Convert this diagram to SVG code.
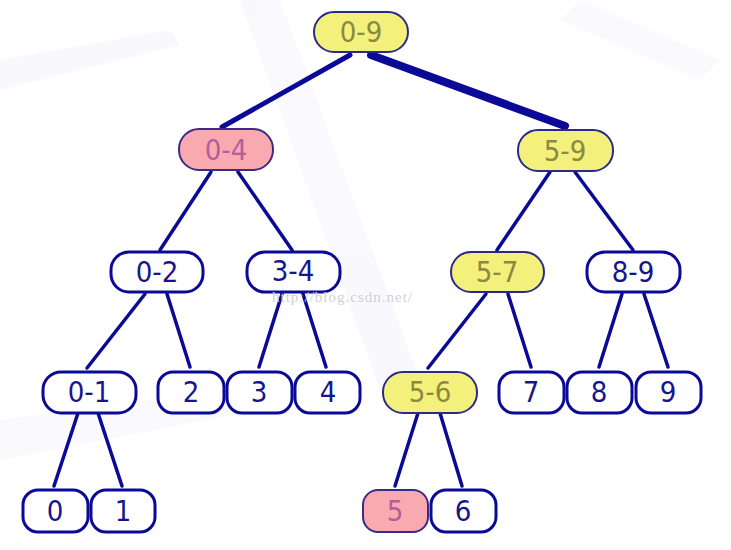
<svg xmlns="http://www.w3.org/2000/svg" width="731" height="550" viewBox="0 0 731 550">
<style>
.n rect{fill:#ffffff;stroke:#0a0a96;stroke-width:3}
.y rect{fill:#f4f07c;stroke:#2a2a8a;stroke-width:2}
.p rect{fill:#f9a9b0;stroke:#3a2a8a;stroke-width:2}
text{font-family:"DejaVu Sans Condensed","DejaVu Sans","Liberation Sans",sans-serif;font-size:29px;text-anchor:middle;dominant-baseline:central;fill:#16168c}
.y text{fill:#8a8a40}
.p text{fill:#b0609a}
.e line{stroke:#0a0a96;stroke-width:3.5;stroke-linecap:round}
.wm{font-family:"Liberation Serif",serif;font-size:15px;fill:#d0d0d0;text-anchor:start;letter-spacing:1px;dominant-baseline:auto}
</style>
<rect width="731" height="550" fill="#ffffff"/>
<g id="bg" opacity="0.35">
<polygon points="240,0 280,0 420,380 380,390" fill="#eeeefb"/>
<polygon points="0,60 170,30 180,45 0,90" fill="#f0f0fb"/>
<polygon points="0,420 300,380 310,400 0,460" fill="#f2f2fb"/>
<polygon points="580,0 720,60 700,80 560,20" fill="#f2f2fb"/>
</g>
<g class="e" id="connectors">
<line x1="350" y1="55" x2="222" y2="127" style="stroke-width:5"/>
<line x1="371" y1="55" x2="565" y2="126" style="stroke-width:8"/>
<line x1="211" y1="172" x2="160" y2="250"/>
<line x1="238" y1="172" x2="292" y2="250"/>
<line x1="550" y1="172" x2="497" y2="250"/>
<line x1="575" y1="172" x2="633" y2="250"/>
<line x1="145" y1="294" x2="87" y2="368"/>
<line x1="167" y1="294" x2="190" y2="367"/>
<line x1="282" y1="294" x2="259" y2="367"/>
<line x1="303" y1="294" x2="326" y2="367"/>
<line x1="486" y1="294" x2="428" y2="368"/>
<line x1="508" y1="294" x2="531" y2="367"/>
<line x1="622" y1="294" x2="599" y2="367"/>
<line x1="644" y1="294" x2="668" y2="367"/>
<line x1="78" y1="413" x2="54" y2="486"/>
<line x1="98" y1="413" x2="122" y2="486"/>
<line x1="418" y1="413" x2="395" y2="486"/>
<line x1="440" y1="413" x2="462" y2="486"/>
</g>
<g id="n09" class="y"><rect x="314" y="12" width="94" height="40" rx="20"/><text x="361" y="32">0-9</text></g>
<g id="n04" class="p"><rect x="179" y="129" width="94" height="41" rx="20"/><text x="226" y="150">0-4</text></g>
<g id="n59" class="y"><rect x="518" y="130" width="95" height="41" rx="20"/><text x="565" y="151">5-9</text></g>
<g id="n02" class="n"><rect x="111" y="252" width="92" height="40" rx="18"/><text x="157" y="272">0-2</text></g>
<g id="n34" class="n"><rect x="247" y="252" width="93" height="40" rx="18"/><text x="293" y="271">3-4</text></g>
<g id="n57" class="y"><rect x="451" y="252" width="93" height="40" rx="20"/><text x="497" y="272">5-7</text></g>
<g id="n89" class="n"><rect x="587" y="252" width="93" height="40" rx="18"/><text x="633" y="272">8-9</text></g>
<g id="n01" class="n"><rect x="43" y="372" width="93" height="41" rx="18"/><text x="89" y="392">0-1</text></g>
<g id="n2" class="n"><rect x="158" y="372" width="66" height="41" rx="15"/><text x="191" y="392">2</text></g>
<g id="n3" class="n"><rect x="227" y="372" width="65" height="41" rx="15"/><text x="259" y="392">3</text></g>
<g id="n4" class="n"><rect x="295" y="372" width="65" height="41" rx="15"/><text x="328" y="392">4</text></g>
<g id="n56" class="y"><rect x="383" y="372" width="94" height="41" rx="20"/><text x="430" y="392">5-6</text></g>
<g id="n7" class="n"><rect x="499" y="372" width="65" height="41" rx="15"/><text x="531" y="392">7</text></g>
<g id="n8" class="n"><rect x="567" y="372" width="65" height="41" rx="15"/><text x="599" y="392">8</text></g>
<g id="n9" class="n"><rect x="636" y="372" width="65" height="41" rx="15"/><text x="668" y="392">9</text></g>
<g id="n0" class="n"><rect x="23" y="490" width="65" height="42" rx="15"/><text x="55" y="511">0</text></g>
<g id="n1" class="n"><rect x="91" y="490" width="64" height="42" rx="15"/><text x="123" y="511">1</text></g>
<g id="n5" class="p"><rect x="363" y="490" width="65" height="42" rx="15"/><text x="395" y="511">5</text></g>
<g id="n6" class="n"><rect x="431" y="490" width="65" height="42" rx="15"/><text x="463" y="511">6</text></g>
<text class="wm" x="272" y="302">http://blog.csdn.net/</text>
</svg>
